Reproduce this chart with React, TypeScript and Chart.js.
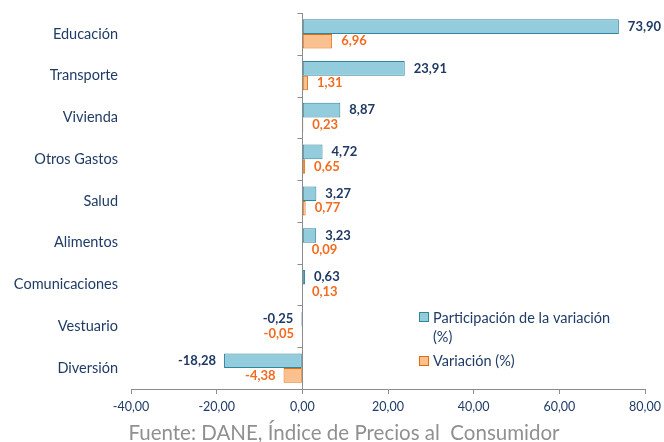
import React, { useEffect, useRef } from "react";
import { Chart, registerables } from "chart.js";

Chart.register(...registerables);

const categories = [
  "Educación",
  "Transporte",
  "Vivienda",
  "Otros Gastos",
  "Salud",
  "Alimentos",
  "Comunicaciones",
  "Vestuario",
  "Diversión",
];
const participacion = [73.9, 23.91, 8.87, 4.72, 3.27, 3.23, 0.63, -0.25, -18.28];
const variacion = [6.96, 1.31, 0.23, 0.65, 0.77, 0.09, 0.13, -0.05, -4.38];
const seriesNames = ["Participación de la variación", "(%)"];
const seriesName2 = "Variación (%)";
const xMin = -40;
const xMax = 80;
const xStep = 20;
const footer = "Fuente: DANE, Índice de Precios al  Consumidor";

const NAVY = "#1F3B66";
const fmt = (v: number) => v.toFixed(2).replace(".", ",");

export default function App() {
  const ref = useRef<HTMLCanvasElement | null>(null);
  useEffect(() => {
    document.body.style.margin = "0";
    const canvas = ref.current!;
    const labelColors = ["#1F3864", "#F26B1F"];

    const valueLabels = {
      id: "valueLabels",
      afterDatasetsDraw(chart: any) {
        const ctx = chart.ctx;
        ctx.save();
        ctx.font = "bold 13px Lato";
        ctx.textBaseline = "middle";
        chart.data.datasets.forEach((ds: any, di: number) => {
          const meta = chart.getDatasetMeta(di);
          meta.data.forEach((el: any, i: number) => {
            const v = ds.data[i];
            ctx.fillStyle = labelColors[di];
            if (v >= 0) {
              ctx.textAlign = "left";
              ctx.fillText(fmt(v), el.x + 9, el.y);
            } else {
              ctx.textAlign = "right";
              ctx.fillText(fmt(v), el.x - 8, el.y);
            }
          });
        });
        ctx.restore();
      },
    };

    const zeroAxis = {
      id: "zeroAxis",
      afterDatasetsDraw(chart: any) {
        const ctx = chart.ctx;
        const { top, bottom } = chart.chartArea;
        const x0 = Math.round(chart.scales.x.getPixelForValue(0)) + 0.5;
        ctx.save();
        ctx.strokeStyle = "#8C8C8C";
        ctx.lineWidth = 1;
        ctx.beginPath();
        ctx.moveTo(x0, top);
        ctx.lineTo(x0, bottom);
        const n = categories.length;
        for (let i = 0; i <= n; i++) {
          const y = Math.round(top + (i * (bottom - top)) / n) + 0.5;
          ctx.moveTo(x0 - 5, y);
          ctx.lineTo(x0, y);
        }
        ctx.stroke();
        ctx.restore();
      },
    };

    const legendAndFooter = {
      id: "legendAndFooter",
      afterDraw(chart: any) {
        const ctx = chart.ctx;
        const ds = chart.data.datasets;
        ctx.save();
        ctx.font = "14.5px Lato";
        ctx.textBaseline = "middle";
        ctx.textAlign = "left";
        ctx.fillStyle = ds[0].backgroundColor;
        ctx.fillRect(419.5, 312.5, 9, 9);
        ctx.strokeStyle = ds[0].borderColor;
        ctx.strokeRect(419.5, 312.5, 9, 9);
        ctx.fillStyle = NAVY;
        ctx.fillText(seriesNames[0], 433, 318);
        ctx.fillText(seriesNames[1], 433, 337);
        ctx.fillStyle = ds[1].backgroundColor;
        ctx.fillRect(419.5, 356.5, 9, 9);
        ctx.strokeStyle = ds[1].borderColor;
        ctx.strokeRect(419.5, 356.5, 9, 9);
        ctx.fillStyle = NAVY;
        ctx.fillText(seriesName2, 433, 361);
        ctx.font = "20.5px Lato";
        ctx.fillStyle = "#909090";
        ctx.textAlign = "center";
        ctx.textBaseline = "alphabetic";
        ctx.fillText(footer, 344, 440);
        ctx.restore();
      },
    };

    const chart = new Chart(canvas, {
      type: "bar",
      data: {
        labels: categories,
        datasets: [
          {
            label: seriesNames.join(" "),
            data: participacion,
            backgroundColor: "#93CDDD",
            borderColor: "#31859C",
            borderWidth: 1,
            borderSkipped: false,
            barPercentage: 1,
            categoryPercentage: 0.7,
          },
          {
            label: seriesName2,
            data: variacion,
            backgroundColor: "#FAC090",
            borderColor: "#E46C0A",
            borderWidth: 1,
            borderSkipped: false,
            barPercentage: 1,
            categoryPercentage: 0.7,
          },
        ],
      },
      options: {
        indexAxis: "y",
        animation: false,
        responsive: false,
        devicePixelRatio: 1,
        layout: { padding: { top: 13, right: 19, left: 0, bottom: 0 } },
        plugins: {
          legend: { display: false },
          tooltip: { enabled: false },
          title: { display: false },
        },
        scales: {
          x: {
            min: xMin,
            max: xMax,
            ticks: {
              stepSize: xStep,
              color: NAVY,
              font: { family: "Lato", size: 12.5 },
              padding: 5,
              maxRotation: 0,
              callback: (v: any) => fmt(Number(v)),
            },
            grid: {
              display: true,
              drawOnChartArea: false,
              drawTicks: true,
              tickLength: 5,
              color: "#8C8C8C",
            },
            border: { display: true, color: "#8C8C8C" },
            afterFit: (s: any) => {
              s.height = 53;
              s.paddingLeft = 0;
              s.paddingRight = 0;
            },
          },
          y: {
            ticks: {
              color: NAVY,
              font: { family: "Lato", size: 14.5 },
              padding: 13,
            },
            grid: { display: false, drawTicks: false },
            border: { display: false },
            afterFit: (s: any) => {
              s.width = 131;
              s.paddingTop = 0;
              s.paddingBottom = 0;
            },
          },
        },
      },
      plugins: [zeroAxis, valueLabels, legendAndFooter],
    } as any);
    return () => chart.destroy();
  }, []);

  return (
    <div style={{ width: 664, height: 442, background: "#fff" }}>
      <canvas ref={ref} width={664} height={442} />
    </div>
  );
}
